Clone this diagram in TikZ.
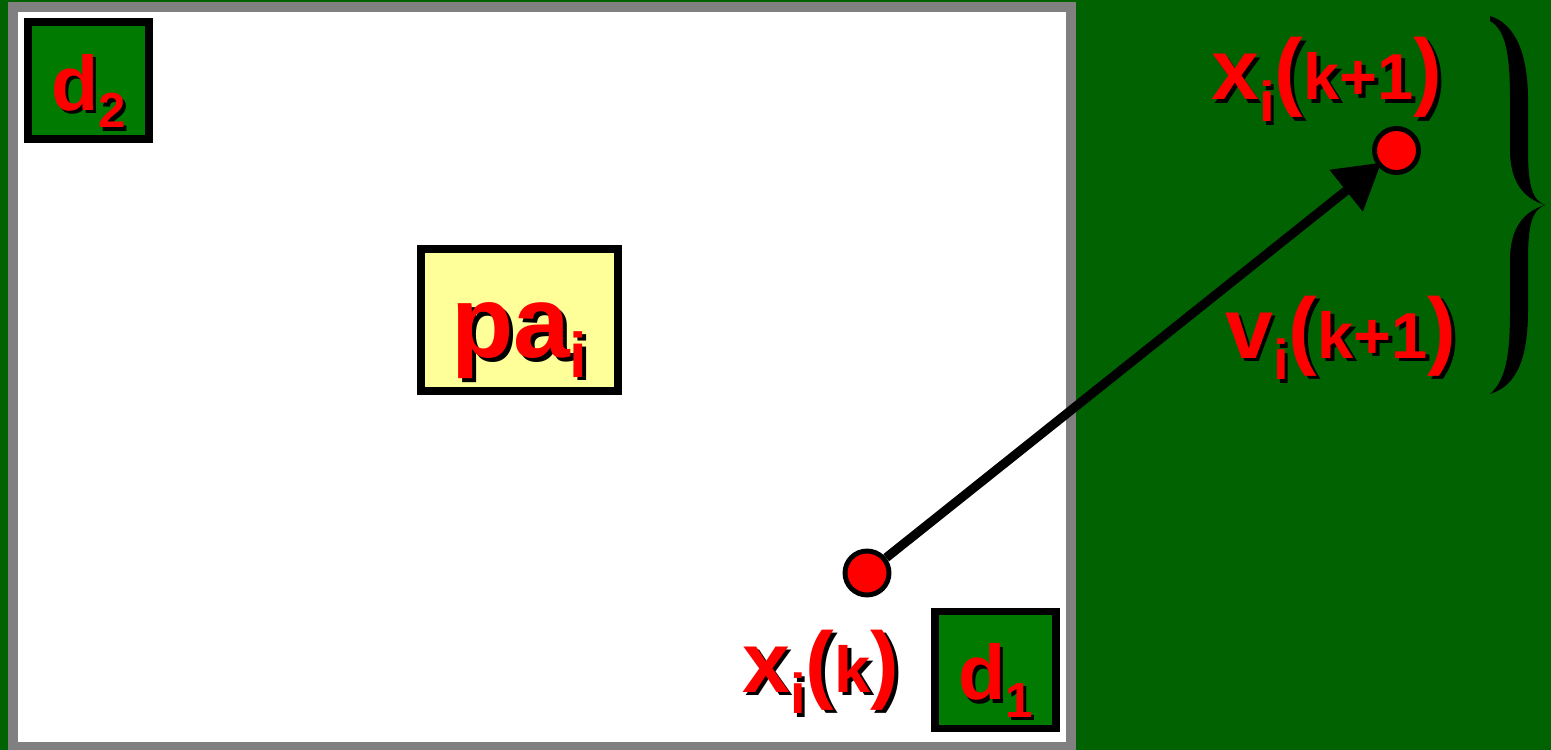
\documentclass[tikz,border=0pt]{standalone}
\usepackage{fontspec}
\setmainfont{Liberation Sans}
\usetikzlibrary{arrows.meta, positioning}
\definecolor{bggreen}{HTML}{006200}
\definecolor{boxgreen}{HTML}{007A00}
\definecolor{framegray}{HTML}{808080}
\definecolor{paleyellow}{HTML}{FFFF99}
\definecolor{labelred}{HTML}{FF0000}

\newcommand{\fbig}{\fontsize{49}{50}\selectfont}
\newcommand{\fmid}{\fontsize{37}{38}\selectfont}
\newcommand{\fsub}[1]{\raisebox{-12.5pt}{\fontsize{32}{32}\selectfont #1}}
\newcommand{\shd}[1]{\makebox[0pt][l]{\hspace{2pt}\raisebox{-2pt}{\color{black}#1}}{\color{labelred}#1}}

\begin{document}
\begin{tikzpicture}[
    x=0.02cm, y=-0.02cm,
    >={Triangle[length=0.9cm, width=1.02cm]},
    % --- node styles ---
    varbox/.style={
        rectangle, draw=black, line width=4.5pt, fill=boxgreen,
        minimum width=2.41cm, minimum height=2.34cm, inner sep=0pt,
        text height=34pt, text depth=0pt, font=\bfseries
    },
    parentbox/.style={
        rectangle, draw=black, line width=4.5pt, fill=paleyellow,
        minimum width=3.94cm, minimum height=2.84cm, inner sep=0pt,
        text height=43pt, text depth=0pt, font=\bfseries
    },
    particle/.style={
        circle, draw=black, line width=2.8pt, fill=labelred,
        minimum size=0.88cm, inner sep=0pt
    },
    lbl/.style={anchor=base west, inner sep=0pt, font=\bfseries},
    velocity/.style={->, line width=5.2pt, shorten >=-0.1cm},
]

% ===== CANVAS =====
\useasboundingbox (0,0) rectangle (1551,750);
\fill[bggreen] (0,0) rectangle (1551,750);

% search area
\draw[framegray, line width=5.7pt, fill=white] (13,7) rectangle (1071,747);

% ===== BOXES =====
\node[varbox] (d2box) at (88.5,80.5)
    {\shd{{\fontsize{44}{44}\selectfont d}\raisebox{-10pt}{\fontsize{28}{28}\selectfont 2}}};
\node[varbox] (d1box) at (995.5,670)
    {\shd{{\fontsize{44}{44}\selectfont d}\raisebox{-10pt}{\fontsize{28}{28}\selectfont 1}}};
\node[parentbox] (pabox) at (519.5,320)
    {\shd{{\fontsize{58}{58}\selectfont pa}\kern-0.5pt\raisebox{-11pt}{\fontsize{36}{36}\selectfont i}}\hspace{10pt}};

% ===== PARTICLE MOVE =====
\node[particle] (xk) at (867,573) {};
\node[particle] (xk1) at (1396.5,150.5) {};
\draw[velocity] (xk) -- (xk1);

% ===== LABELS =====
\node[lbl] (xk1lbl) at (1211,100) {\shd{\fbig x\fsub{i}(\fmid k+1\fbig)}};
\node[lbl] (vk1lbl) at (1225,358) {\shd{\fbig v\fsub{i}(\fmid k+1\fbig)}};
\node[lbl] (xklbl) at (742,692) {\shd{\fbig x\fsub{i}(\fmid k\fbig)}};

% brace
\fill[black] (1490,16) .. controls (1516,24) and (1528,55) .. (1528,100)
    -- (1528,150) .. controls (1528,185) and (1532,200) .. (1545,205)
    .. controls (1532,210) and (1528,225) .. (1528,260)
    -- (1528,310) .. controls (1528,360) and (1516,386) .. (1490,394)
    .. controls (1506,380) and (1510,355) .. (1510,310)
    -- (1510,260) .. controls (1510,230) and (1522,212) .. (1545,205)
    .. controls (1522,198) and (1510,180) .. (1510,150)
    -- (1510,100) .. controls (1510,55) and (1506,30) .. (1490,21) -- cycle;

\end{tikzpicture}
\end{document}
